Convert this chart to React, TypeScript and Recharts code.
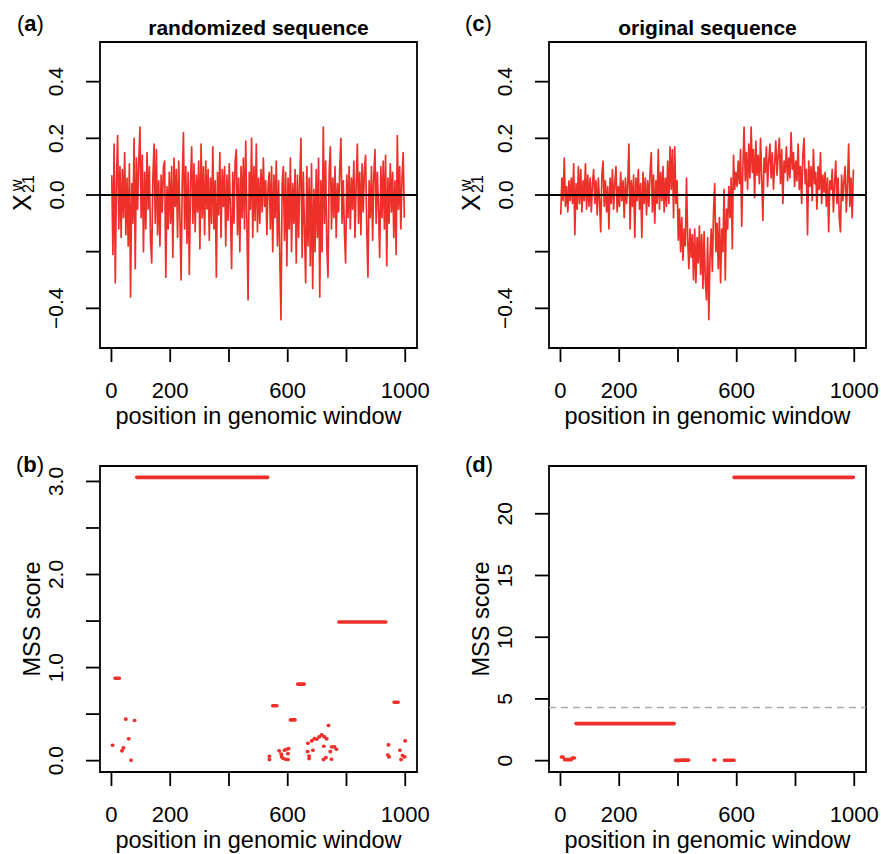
import React from "react";
import { LineChart, Line, XAxis, YAxis, ReferenceLine, ReferenceArea } from "recharts";

const FONT = '"Liberation Sans", Arial, Helvetica, sans-serif';
const RED = "#ee302a";

// x axis, shared by all panels
const xTicks = [0, 200, 400, 600, 800, 1000];
const xTickLabels = ["0", "200", "", "600", "", "1000"];
const xDomain: [number, number] = [-39, 1040];

// top row: X^w_21 along the window, sampled every 4 positions
const sampleStart = 1;
const sampleStep = 4;

const randomizedX = [
  0.07, -0.21, 0.18, -0.31, 0.05, 0.21, -0.12, 0.1, -0.15, 0.09, -0.08, 0.15, -0.14, 0.06, -0.18, 0.11, -0.36, 0.04, -0.1, 0.2, -0.26, 0.13, -0.05, 0.12, 0.24,
  -0.08, 0.14, -0.2, 0.08, -0.12, 0.15, -0.05, 0.1, -0.16, -0.24, 0.06, 0.18, -0.1, 0.16, -0.14, 0.05, -0.18, 0.07, -0.06, 0.1, 0.12, -0.29, 0.03, -0.12, 0.08,
  -0.1, 0.1, -0.22, 0.13, -0.04, 0.09, -0.15, 0.12, -0.08, -0.3, 0.05, 0.22, -0.12, 0.1, -0.17, 0.08, -0.28, 0.04, 0.17, -0.1, 0.11, -0.13, 0.07, -0.06, 0.12,
  -0.19, 0.18, -0.08, 0.1, -0.14, 0.12, -0.05, 0.09, -0.16, 0.06, -0.1, 0.17, -0.12, 0.05, -0.29, 0.08, -0.07, 0.15, -0.15, 0.09, -0.04, 0.1, -0.18, 0.07, -0.09,
  0.11, -0.06, -0.26, 0.08, -0.1, 0.12, 0.16, -0.14, 0.06, -0.2, 0.1, -0.08, 0.13, -0.12, 0.19, -0.1, -0.37, 0.08, -0.05, 0.2, -0.15, 0.1, -0.09, 0.18, -0.13,
  0.06, -0.1, 0.09, -0.06, 0.13, -0.04, 0.05, -0.14, 0.03, 0.08, -0.12, 0.1, -0.2, 0.07, -0.08, 0.12, -0.18, 0.05, -0.22, -0.44, 0.04, 0.1, -0.16, 0.08, -0.25,
  0.06, -0.12, 0.13, -0.2, 0.04, -0.1, 0.09, -0.24, 0.07, -0.15, 0.05, 0.2, -0.22, 0.08, -0.12, -0.31, 0.1, -0.18, 0.06, -0.25, 0.11, -0.33, 0.02, -0.2, 0.09,
  -0.15, 0.13, -0.36, 0.05, -0.2, 0.24, -0.1, 0.12, -0.18, -0.29, 0.08, 0.17, -0.12, 0.06, -0.08, 0.1, -0.15, 0.04, -0.06, 0.09, 0.2, -0.1, 0.05, -0.13, -0.24,
  0.07, -0.08, 0.1, -0.12, 0.06, -0.05, 0.12, -0.15, 0.04, 0.18, -0.1, 0.08, -0.14, 0.11, -0.06, 0.09, 0.14, -0.12, -0.29, 0.05, -0.08, 0.1, -0.16, 0.07, 0.16,
  -0.1, 0.08, -0.05, -0.22, 0.1, -0.08, 0.12, -0.12, 0.14, -0.25, 0.06, -0.1, 0.11, -0.06, 0.08, -0.15, 0.05, -0.21, 0.21, -0.05, 0.1, -0.12, 0.06, 0.15, -0.08,
];

const originalX = [
  -0.07, 0.06, -0.02, 0.13, -0.04, 0.03, -0.06, 0.05, -0.02, 0.06, -0.03, 0.11, -0.14, 0.04, -0.05, 0.1, -0.03, 0.09, -0.06, 0.05, -0.02, 0.11, -0.05, 0.07, -0.04,
  0.06, -0.06, 0.04, 0.09, -0.03, 0.05, -0.07, 0.06, -0.02, -0.13, 0.07, 0.12, -0.04, 0.05, -0.06, 0.03, -0.12, 0.06, -0.03, 0.09, -0.05, 0.04, 0.1, -0.06, 0.03,
  -0.04, 0.08, -0.02, 0.05, -0.08, 0.06, -0.03, 0.04, 0.18, -0.12, 0.05, -0.04, 0.07, -0.15, 0.06, -0.02, 0.09, -0.05, 0.04, -0.15, 0.08, -0.03, 0.06, -0.07, 0.05,
  -0.04, 0.08, 0.15, -0.06, 0.07, -0.1, 0.05, -0.03, 0.16, -0.05, 0.08, -0.02, 0.1, -0.06, 0.06, -0.04, 0.12, -0.03, 0.17, 0.02, 0.16, -0.08, 0.17, -0.03, 0.05,
  -0.16, -0.05, -0.2, -0.08, -0.23, -0.12, -0.18, 0.06, -0.15, -0.26, -0.12, -0.22, -0.14, -0.3, -0.12, -0.31, -0.15, -0.24, -0.11, -0.28, -0.14, -0.33, -0.13, -0.3, -0.37,
  -0.15, -0.44, -0.22, -0.12, -0.27, -0.06, 0.04, -0.2, -0.1, -0.26, -0.08, -0.31, -0.12, -0.2, 0.02, -0.3, -0.05, -0.12, 0.03, -0.08, 0.06, -0.19, 0.14, 0.02, 0.08,
  0.03, 0.12, 0.04, 0.16, -0.11, 0.1, 0.24, 0.05, 0.15, 0.02, 0.18, 0.06, 0.24, 0.08, 0.16, -0.01, 0.19, 0.07, 0.14, 0.04, 0.2, 0.06, -0.09, 0.13, 0.08,
  0.17, 0.03, 0.12, 0.18, 0.06, 0.15, 0.02, 0.11, 0.19, 0.07, 0.14, 0.2, 0.04, 0.16, -0.03, 0.12, 0.08, 0.17, 0.05, 0.13, 0.06, 0.22, 0.09, 0.15, 0.03,
  0.12, 0.05, 0.18, 0.02, 0.1, -0.03, 0.14, 0.2, 0.04, 0.09, -0.14, 0.12, 0.03, 0.1, -0.02, 0.16, 0.04, 0.08, -0.05, 0.1, 0.02, 0.15, -0.03, 0.07, 0.01,
  0.08, -0.04, 0.06, -0.13, 0.05, 0.02, 0.09, -0.06, 0.04, 0.12, -0.03, 0.06, -0.08, -0.13, 0.07, -0.02, 0.05, 0.1, -0.06, 0.04, 0.18, -0.04, 0.06, -0.08, 0.09,
];

const topYTicks = [-0.4, -0.2, 0, 0.2, 0.4];
const topYLabels = ["\u22120.4", "", "0.0", "0.2", "0.4"];
const topYDomain: [number, number] = [-0.54, 0.54];

// bottom left: MSS segments of the randomized sequence
const randSegStart = [86, 774, 12, 634, 549, 609, 962];
const randSegEnd = [532, 934, 27, 656, 563, 625, 976];
const randSegScore = [3.044, 1.49, 0.885, 0.822, 0.59, 0.438, 0.628];
const randDotPos = [
  3, 35, 40, 48, 58, 66, 78,
  537, 537, 570, 577, 583, 588, 593, 600, 602, 600, 591, 579,
  668, 667, 672, 672, 681, 685, 690, 698, 706, 715, 724, 732, 738, 722, 721, 729, 744, 748, 749, 758, 765,
  942, 940, 944, 981, 985, 990, 997, 999,
];
const randDotScore = [
  0.166, 0.105, 0.137, 0.446, 0.234, 0.004, 0.431,
  0.047, 0.011, 0.105, 0.07, 0.025, 0.112, 0.118, 0.075, 0.129, 0.011, 0.015, 0.04,
  0.187, 0.097, 0.05, 0.022, 0.212, 0.112, 0.237, 0.23, 0.255, 0.277, 0.255, 0.234, 0.377, 0.154, 0.011, 0.032, 0.097, 0.015, 0.148, 0.148, 0.123,
  0.169, 0.061, 0.04, 0.112, 0.011, 0.054, 0.04, 0.212,
];
const randYTicks = [0, 0.5, 1, 1.5, 2, 2.5, 3];
const randYLabels = ["0.0", "", "1.0", "", "2.0", "", "3.0"];
const randYDomain: [number, number] = [-0.122, 3.166];

// bottom right: MSS segments of the original sequence
const origSegStart = [591, 53, 3, 14, 40, 392, 412, 522, 558];
const origSegEnd = [997, 387, 9, 37, 48, 410, 436, 526, 591];
const origSegScore = [22.95, 3.0, 0.3, 0.08, 0.22, 0.02, 0.04, 0.05, 0.03];
const origThreshold = 4.3;
const origYTicks = [0, 5, 10, 15, 20];
const origYLabels = ["0", "5", "10", "15", "20"];
const origYDomain: [number, number] = [-0.92, 23.87];

type Pt = { x: number; y: number | null };

const seriesPoints = (vals: number[]): Pt[] =>
  vals.map((v, i) => ({ x: sampleStart + i * sampleStep, y: v }));

const segmentPoints = (start: number[], end: number[], score: number[]): Pt[] => {
  const out: Pt[] = [];
  start.forEach((s, i) => {
    out.push({ x: s, y: score[i] }, { x: end[i], y: score[i] }, { x: end[i], y: null });
  });
  return out;
};

const randomizedData = seriesPoints(randomizedX);
const originalData = seriesPoints(originalX);
const randSegData = [
  ...segmentPoints(randSegStart, randSegEnd, randSegScore),
  ...segmentPoints(randDotPos, randDotPos.map((p) => p + 1.5), randDotScore),
];
const origSegData = segmentPoints(origSegStart, origSegEnd, origSegScore);

// panel geometry (chart coords)
const CW = 440;
const CH = 430;
const BOX_L = 100;
const BOX_T = 42;
const BOX_R = 417;
const BOX_B = 348;

const XTick = ({ x, payload }: any) => {
  const i = xTicks.findIndex((t) => Math.abs(t - payload.value) < 1e-9);
  return (
    <text x={x} y={BOX_B + 50} textAnchor="middle" fontSize={22} fontFamily={FONT} fill="#000">
      {xTickLabels[i]}
    </text>
  );
};

const makeYTick = (ticks: number[], labels: string[]) => ({ y, payload }: any) => {
  const i = ticks.findIndex((t) => Math.abs(t - payload.value) < 1e-9);
  const cx = BOX_L - 44;
  return (
    <text
      x={cx}
      y={y}
      transform={`rotate(-90 ${cx} ${y})`}
      textAnchor="middle"
      dominantBaseline="central"
      fontSize={21}
      fontFamily={FONT}
      fill="#000"
    >
      {labels[i]}
    </text>
  );
};

function Panel(props: {
  left: number;
  top: number;
  data: Pt[];
  yDomain: [number, number];
  yTicks: number[];
  yLabels: string[];
  width: number;
  segments?: boolean;
  children?: React.ReactNode;
}) {
  const { left, top, data, yDomain, yTicks, yLabels, width, segments } = props;
  return (
    <div style={{ position: "absolute", left, top }}>
      <LineChart width={CW} height={CH} data={data} margin={{ top: BOX_T, right: CW - BOX_R, bottom: 0, left: 0 }}>
        <XAxis
          dataKey="x"
          type="number"
          domain={xDomain}
          ticks={xTicks}
          interval={0}
          allowDataOverflow
          height={CH - BOX_B}
          axisLine={false}
          tickSize={14}
          tickLine={{ stroke: "#000", strokeWidth: 1.8 }}
          tick={XTick}
        />
        <YAxis
          type="number"
          domain={yDomain}
          ticks={yTicks}
          interval={0}
          allowDataOverflow
          width={BOX_L}
          axisLine={false}
          tickSize={14}
          tickLine={{ stroke: "#000", strokeWidth: 1.8 }}
          tick={makeYTick(yTicks, yLabels)}
        />
        <Line
          type="linear"
          dataKey="y"
          stroke={RED}
          strokeWidth={width}
          strokeLinecap={segments ? "round" : "butt"}
          strokeLinejoin="round"
          dot={false}
          activeDot={false}
          connectNulls={false}
          isAnimationActive={false}
        />
        {props.children}
        <ReferenceArea
          x1={xDomain[0]}
          x2={xDomain[1]}
          y1={yDomain[0]}
          y2={yDomain[1]}
          fill="none"
          fillOpacity={0}
          stroke="#000"
          strokeWidth={1.8}
        />
      </LineChart>
    </div>
  );
}

function Labels() {
  const txt = { fontFamily: FONT, fill: "#000" };
  const panelLabel = (x: number, y: number, l: string) => (
    <text x={x} y={y} fontSize={22} {...txt}>
      (<tspan fontWeight="bold">{l}</tspan>)
    </text>
  );
  const xTitle = (cx: number, y: number) => (
    <text x={cx} y={y} textAnchor="middle" fontSize={23.5} {...txt}>
      position in genomic window
    </text>
  );
  const xwLabel = (bx: number, cy: number) => (
    <g transform={`translate(${bx},${cy}) rotate(-90)`}>
      <text x={-16} y={0} fontSize={25} {...txt}>X</text>
      <text x={2} y={3} fontSize={16} {...txt}>21</text>
      <text x={4} y={-9} fontSize={16} {...txt}>w</text>
    </g>
  );
  const mssLabel = (bx: number, cy: number) => (
    <text x={bx} y={cy} transform={`rotate(-90 ${bx} ${cy})`} textAnchor="middle" fontSize={23.5} {...txt}>
      MSS score
    </text>
  );
  return (
    <svg width={881} height={854} style={{ position: "absolute", left: 0, top: 0, pointerEvents: "none" }}>
      {panelLabel(17, 31, "a")}
      {panelLabel(465, 31, "c")}
      {panelLabel(16, 472, "b")}
      {panelLabel(465, 472, "d")}
      <text x={258.5} y={35} textAnchor="middle" fontSize={21} fontWeight="bold" {...txt}>
        randomized sequence
      </text>
      <text x={707.5} y={35} textAnchor="middle" fontSize={21} fontWeight="bold" {...txt}>
        original sequence
      </text>
      {xTitle(258.5, 424)}
      {xTitle(707.5, 424)}
      {xTitle(258.5, 848)}
      {xTitle(707.5, 848)}
      {xwLabel(31, 195)}
      {xwLabel(480, 195)}
      {mssLabel(40, 619)}
      {mssLabel(489, 619)}
    </svg>
  );
}

export default function App() {
  return (
    <div style={{ position: "absolute", left: 0, top: 0, width: 881, height: 854, background: "#fff" }}>
      <Panel left={0} top={0} data={randomizedData} yDomain={topYDomain} yTicks={topYTicks} yLabels={topYLabels} width={1.7}>
        <ReferenceLine y={0} stroke="#000" strokeWidth={1.8} />
      </Panel>
      <Panel left={449} top={0} data={originalData} yDomain={topYDomain} yTicks={topYTicks} yLabels={topYLabels} width={1.7}>
        <ReferenceLine y={0} stroke="#000" strokeWidth={1.8} />
      </Panel>
      <Panel left={0} top={424} data={randSegData} yDomain={randYDomain} yTicks={randYTicks} yLabels={randYLabels} width={3.6} segments />
      <Panel left={449} top={424} data={origSegData} yDomain={origYDomain} yTicks={origYTicks} yLabels={origYLabels} width={3.6} segments>
        <ReferenceLine y={origThreshold} stroke="#aaaaaa" strokeWidth={1.4} strokeDasharray="7 5" />
      </Panel>
      <Labels />
    </div>
  );
}
